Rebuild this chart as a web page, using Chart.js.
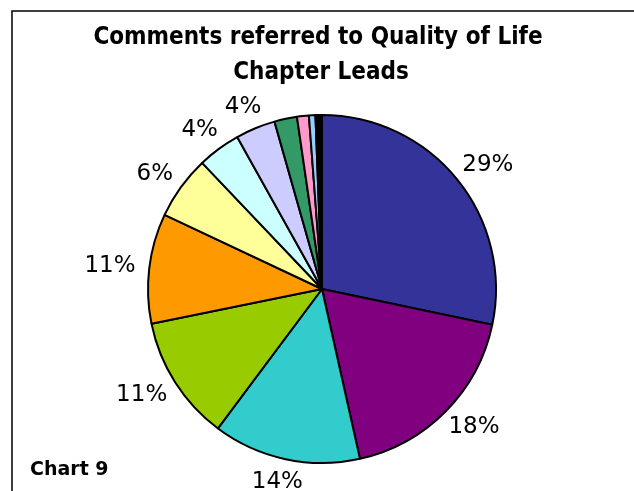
<!DOCTYPE html>
<html>
<head>
<meta charset="utf-8">
<script src="https://cdn.jsdelivr.net/npm/chart.js@4.4.0/dist/chart.umd.min.js"></script>
<style>
  html, body { margin: 0; padding: 0; background: #fff; }
</style>
</head>
<body>
<canvas id="quality-pie" width="634" height="491"></canvas>
<script>
// slice order: clockwise from 12 o'clock
const sliceNames = ["Source 1", "Source 2", "Source 3", "Source 4", "Source 5", "Source 6",
                    "Source 7", "Source 8", "Source 9", "Source 10", "Source 11", "Source 12"];
const sliceValues = [28.3, 18.2, 13.7, 11.6, 10.2, 5.9, 4.0, 3.7, 2.1, 1.1, 0.6, 0.6];
const percentLabels = ["29%", "18%", "14%", "11%", "11%", "6%", "4%", "4%", "", "", "", ""];
const sliceColors = ["#333399", "#800080", "#33CCCC", "#99CC00", "#FF9900", "#FFFF99",
                     "#CCFFFF", "#CCCCFF", "#339966", "#FF99CC", "#99CCFF", "#000000"];
const titleLines = ["Comments referred to Quality of Life", "Chapter Leads"];
const footnote = "Chart 9";

const pieLabels = {
    id: "pieLabels",
    beforeDraw(chart) {
        const ctx = chart.ctx;
        ctx.save();
        // frame, only left and top edges are visible
        ctx.strokeStyle = "#000";
        ctx.lineWidth = 1.5;
        ctx.beginPath();
        ctx.moveTo(12, chart.height);
        ctx.lineTo(12, 11);
        ctx.lineTo(chart.width, 11);
        ctx.stroke();

        ctx.fillStyle = "#000";
        ctx.textAlign = "center";
        ctx.textBaseline = "middle";
        ctx.font = 'bold 24px "DejaVu Sans Condensed", "DejaVu Sans"';
        ctx.fillText(titleLines[0], 318, 38);
        ctx.fillText(titleLines[1], 321, 73);

        ctx.textAlign = "left";
        ctx.font = 'bold 19px "DejaVu Sans"';
        ctx.fillText(footnote, 30, 470);
        ctx.restore();
    },
    afterDatasetsDraw(chart) {
        const ctx = chart.ctx;
        const meta = chart.getDatasetMeta(0);
        ctx.save();
        ctx.font = '23px "DejaVu Sans"';
        ctx.fillStyle = "#000";
        ctx.textAlign = "center";
        ctx.textBaseline = "middle";
        meta.data.forEach((arc, i) => {
            const text = percentLabels[i];
            if (!text) return;
            const mid = (arc.startAngle + arc.endAngle) / 2;
            const cos = Math.cos(mid), sin = Math.sin(mid);
            const w = ctx.measureText(text).width;
            const r = arc.outerRadius + 14;
            ctx.fillText(text, arc.x + cos * (r + w / 2), arc.y + sin * (r + 9));
        });
        ctx.restore();
    }
};

new Chart(document.getElementById("quality-pie"), {
    type: "pie",
    data: {
        labels: sliceNames,
        datasets: [
            {
                data: sliceValues,
                backgroundColor: sliceColors,
                borderColor: "#000",
                borderWidth: 2,
            },
        ],
    },
    options: {
        responsive: false,
        animation: false,
        devicePixelRatio: 1,
        layout: {
            padding: { top: 114, left: 147, right: 137, bottom: 27 },
        },
        plugins: {
            legend: { display: false },
            tooltip: { enabled: false },
        },
    },
    plugins: [pieLabels],
});
</script>
</body>
</html>
